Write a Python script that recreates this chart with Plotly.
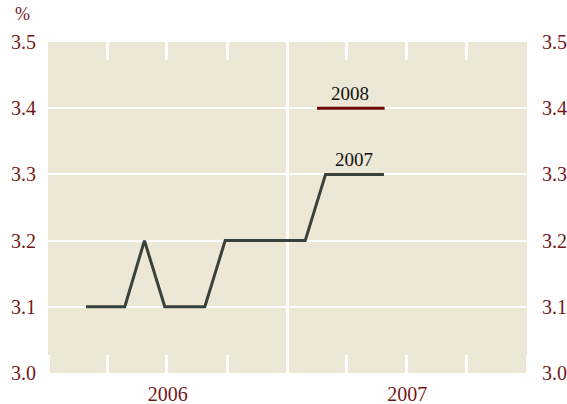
import plotly.graph_objects as go

# Forecast for 2007 (%), by survey date
survey_dates = ["2006-02-28", "2006-03-28", "2006-04-28", "2006-05-28", "2006-06-28",
                "2006-07-28", "2006-08-28", "2006-09-28", "2006-10-28", "2006-11-28",
                "2006-12-28", "2007-01-28", "2007-02-28", "2007-03-28", "2007-04-28",
                "2007-05-28"]
forecast_2007 = [3.1, 3.1, 3.1, 3.2, 3.1, 3.1, 3.1, 3.2, 3.2, 3.2, 3.2, 3.2, 3.3, 3.3, 3.3, 3.3]

# Forecast for 2008 (%)
survey_dates_2008 = ["2007-02-15", "2007-05-29"]
forecast_2008 = [3.4, 3.4]

y_ticks = [3.0, 3.1, 3.2, 3.3, 3.4, 3.5]
y_labels = ["3.0", "3.1", "3.2", "3.3", "3.4", "3.5"]

BG = "#EDE8D6"
LABEL = "#731818"
FONT = "Liberation Serif, Times New Roman, serif"

fig = go.Figure()
fig.add_trace(go.Scatter(x=survey_dates, y=forecast_2007, mode="lines",
                         line=dict(color="#38423D", width=3), showlegend=False,
                         hoverinfo="skip"))
fig.add_trace(go.Scatter(x=survey_dates_2008, y=forecast_2008, mode="lines",
                         line=dict(color="#6B0A0A", width=3), showlegend=False,
                         hoverinfo="skip"))
# invisible trace for right axis and top axis
fig.add_trace(go.Scatter(x=survey_dates[:1], y=forecast_2007[:1], xaxis="x2", yaxis="y2",
                         mode="markers", marker=dict(opacity=0), showlegend=False,
                         hoverinfo="skip"))

fig.add_annotation(x="2007-04-07", y=3.4, text="2008", showarrow=False,
                   yanchor="bottom", yshift=2, font=dict(family=FONT, size=19, color="#111111"))
fig.add_annotation(x="2007-04-12", y=3.3, text="2007", showarrow=False,
                   yanchor="bottom", yshift=2, font=dict(family=FONT, size=19, color="#111111"))
fig.add_annotation(x=-0.054, y=1.0, xref="paper", yref="paper", text="%", showarrow=False,
                   xanchor="center", yanchor="middle", yshift=28,
                   font=dict(family=FONT, size=18, color=LABEL))

minor_ticks = dict(dtick="M3", tick0="2006-01-01", ticks="inside", ticklen=18,
                   tickcolor="white", tickwidth=2.5, showgrid=False)

fig.update_layout(
    width=567, height=404,
    margin=dict(l=48, r=40, t=42, b=31),
    paper_bgcolor="white", plot_bgcolor=BG,
    font=dict(family=FONT, size=20, color=LABEL),
    xaxis=dict(
        type="date", range=["2006-01-01", "2008-01-01"], automargin=False,
        dtick="M12", tick0="2006-01-01", ticklabelmode="period",
        tickformat="%Y", ticks="outside", ticklen=3, tickcolor="rgba(0,0,0,0)",
        showgrid=True, gridcolor="white", gridwidth=3,
        zeroline=False, showline=False,
        minor=minor_ticks,
        tickfont=dict(family=FONT, size=20, color=LABEL),
    ),
    xaxis2=dict(
        type="date", range=["2006-01-01", "2008-01-01"], automargin=False,
        overlaying="x", side="top", matches="x",
        dtick="M12", tick0="2006-01-01", showticklabels=False, ticks="",
        showgrid=False, zeroline=False, showline=False,
        minor=minor_ticks,
    ),
    yaxis=dict(
        range=[3.0, 3.5], tickvals=y_ticks, ticktext=y_labels, automargin=False,
        showgrid=True, gridcolor="white", gridwidth=2, zeroline=False,
        ticks="outside", ticklen=7, tickcolor="rgba(0,0,0,0)",
        tickfont=dict(family=FONT, size=20, color=LABEL),
    ),
    yaxis2=dict(
        range=[3.0, 3.5], tickvals=y_ticks, ticktext=y_labels, overlaying="y",
        side="right", showgrid=False, zeroline=False, automargin=False,
        ticks="outside", ticklen=10, tickcolor="rgba(0,0,0,0)",
        tickfont=dict(family=FONT, size=20, color=LABEL),
    ),
)

fig.write_html("out.html", config={"displayModeBar": False},
               post_script="document.body.style.margin='0';document.body.style.overflow='hidden';")
